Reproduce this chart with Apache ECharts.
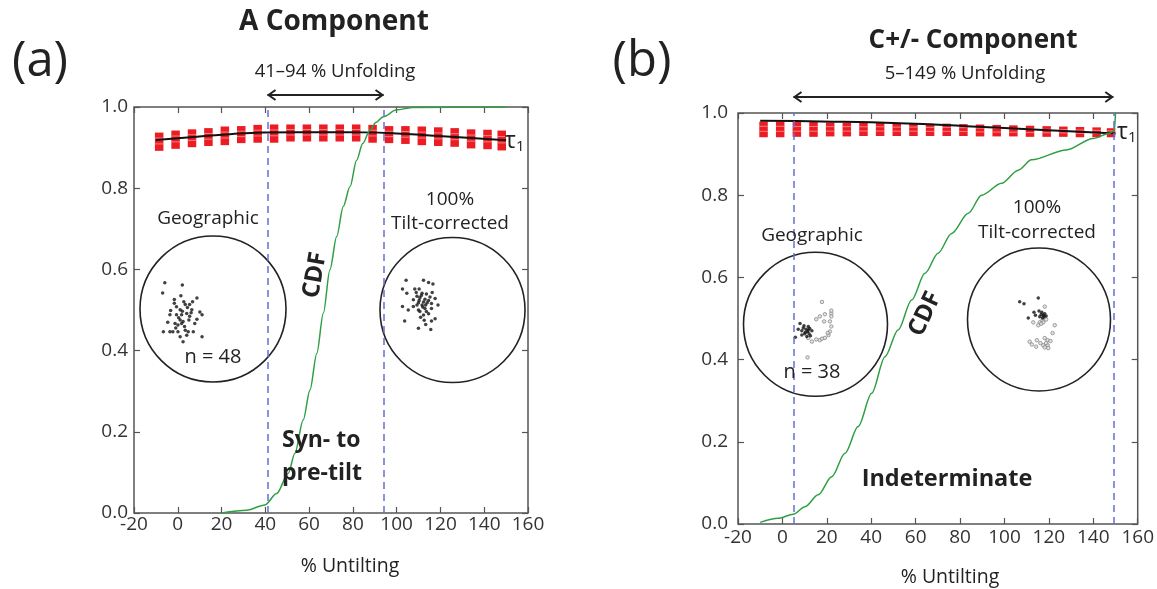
<!DOCTYPE html>
<html><head><meta charset="utf-8">
<script src="https://cdn.jsdelivr.net/npm/echarts/dist/echarts.min.js"></script>
<style>html,body{margin:0;padding:0;background:#fff}#c{width:1157px;height:589px}</style>
</head><body><div id="c"></div>
<script>
// ---------- data ----------
const xTickValues = [-20, 0, 20, 40, 60, 80, 100, 120, 140, 160];
const yTickValues = [0.0, 0.2, 0.4, 0.6, 0.8, 1.0];

const foldA = [41, 94];
const foldB = [5, 149];

const cdfA_x = [20, 31.5, 39.8, 45.2, 50.5, 53.5, 57.3, 60.4, 63.5, 66.5, 69.5, 72.6, 75.6, 78.7, 81.7, 84.5, 87.8, 90.5, 93.9, 100, 107.5, 150];
const cdfA_y = [0, 0.007, 0.02, 0.048, 0.098, 0.147, 0.229, 0.303, 0.393, 0.492, 0.599, 0.681, 0.755, 0.804, 0.869, 0.91, 0.943, 0.962, 0.976, 0.993, 0.999, 1.0];

const cdfB_x = [-10, -1.9, 4.9, 10.2, 16.1, 22.2, 28.2, 34.1, 40.2, 46.2, 52.1, 58.2, 64.2, 70.1, 76.2, 83.7, 89.7, 98.7, 106.2, 112.2, 127.9, 139.9, 147.4, 149.5, 150];
const cdfB_y = [0.004, 0.014, 0.024, 0.042, 0.071, 0.115, 0.172, 0.237, 0.318, 0.407, 0.472, 0.545, 0.61, 0.659, 0.707, 0.756, 0.8, 0.829, 0.861, 0.886, 0.91, 0.938, 0.951, 0.958, 1.0];

const tauA_x = [-10, 8.6, 23.9, 39.1, 54.3, 69.5, 84.8, 100, 115.2, 130.4, 150];
const tauA_y = [0.919, 0.927, 0.933, 0.937, 0.938, 0.938, 0.9375, 0.935, 0.930, 0.925, 0.918];

const tauB_x = [-10, 22.9, 52.9, 82.9, 112.9, 150];
const tauB_y = [0.981, 0.979, 0.975, 0.968, 0.960, 0.950];

const bootX = [-8.5, -1, 6.5, 14, 21.5, 29, 36.5, 44, 51.5, 59, 66.5, 74, 81.5, 89, 96.5, 104, 111.5, 119, 126.5, 134, 141.5, 148];
const bootA_hi = [0.937, 0.942, 0.945, 0.948, 0.952, 0.953, 0.956, 0.957, 0.957, 0.957, 0.957, 0.957, 0.957, 0.956, 0.953, 0.953, 0.952, 0.950, 0.948, 0.945, 0.944, 0.942];
const bootA_lo = [0.892, 0.897, 0.901, 0.904, 0.906, 0.911, 0.912, 0.912, 0.915, 0.915, 0.915, 0.915, 0.915, 0.912, 0.911, 0.909, 0.906, 0.904, 0.902, 0.898, 0.896, 0.893];
const bootB_hi = [0.979, 0.979, 0.978, 0.978, 0.977, 0.977, 0.976, 0.976, 0.975, 0.975, 0.974, 0.974, 0.973, 0.972, 0.971, 0.970, 0.969, 0.968, 0.967, 0.966, 0.965, 0.963];
const bootB_lo = [0.941, 0.941, 0.942, 0.942, 0.943, 0.943, 0.944, 0.944, 0.944, 0.944, 0.944, 0.944, 0.944, 0.943, 0.943, 0.943, 0.942, 0.942, 0.942, 0.941, 0.941, 0.941];

// stereonet directions (unit-circle coordinates)
const geoA_pts = [[-0.66,0.36],[-0.42,0.33],[-0.69,0.22],[-0.22,0.15],[-0.53,0.13],[-0.53,0.08],[-0.38,0.06],[-0.32,0.06],[-0.50,0.03],[-0.45,-0.01],[-0.29,-0.01],[-0.18,-0.04],[-0.59,-0.08],[-0.50,-0.08],[-0.43,-0.08],[-0.36,-0.06],[-0.32,-0.10],[-0.22,-0.14],[-0.15,-0.08],[-0.45,-0.15],[-0.41,-0.17],[-0.52,-0.20],[-0.48,-0.22],[-0.43,-0.20],[-0.38,-0.29],[-0.68,-0.31],[-0.59,-0.31],[-0.55,-0.31],[-0.48,-0.31],[-0.34,-0.31],[-0.27,-0.31],[-0.45,-0.38],[-0.41,-0.45],[-0.15,-0.38],[-0.40,0.10],[-0.35,0.02],[-0.30,-0.05],[-0.47,-0.12],[-0.39,-0.24],[-0.25,-0.20],[-0.58,-0.02],[-0.44,0.18],[-0.33,-0.15],[-0.51,-0.26],[-0.36,-0.36],[-0.28,0.10],[-0.62,-0.18],[-0.42,-0.03]];
const tiltA_pts = [[-0.64,0.41],[-0.40,0.41],[-0.33,0.38],[-0.27,0.36],[-0.69,0.29],[-0.52,0.29],[-0.46,0.29],[-0.63,0.23],[-0.42,0.23],[-0.36,0.22],[-0.49,0.19],[-0.45,0.17],[-0.31,0.18],[-0.24,0.16],[-0.54,0.14],[-0.46,0.13],[-0.40,0.11],[-0.33,0.13],[-0.29,0.09],[-0.49,0.07],[-0.42,0.07],[-0.37,0.07],[-0.20,0.07],[-0.69,0.05],[-0.54,0.05],[-0.61,0.0],[-0.47,0.0],[-0.38,0.02],[-0.45,-0.02],[-0.29,0.02],[-0.36,-0.02],[-0.40,-0.07],[-0.24,-0.12],[-0.29,-0.15],[-0.66,-0.15],[-0.39,-0.14],[-0.47,-0.25],[-0.30,-0.27],[-0.43,0.20],[-0.38,0.15],[-0.35,0.10],[-0.41,0.04],[-0.33,-0.05],[-0.44,-0.10],[-0.50,0.24],[-0.28,0.24],[-0.37,-0.20],[-0.47,0.10]];
const geoB_black = [[-0.215,0.01],[-0.16,-0.02],[-0.10,-0.03],[-0.24,-0.07],[-0.19,-0.09],[-0.13,-0.07],[-0.08,-0.06],[-0.11,-0.10],[-0.05,-0.09],[-0.15,-0.13],[-0.09,-0.13],[-0.19,-0.15],[-0.28,-0.18],[-0.07,-0.16],[-0.12,-0.17],[-0.14,-0.11],[-0.17,-0.05],[-0.10,-0.08]];
const geoB_grey = [[0.09,0.31],[0.22,0.15],[0.22,0.11],[0.13,0.14],[0.06,0.11],[0.01,0.07],[0.12,0.04],[0.20,0.04],[0.22,-0.03],[0.20,-0.10],[0.18,-0.15],[0.13,-0.19],[0.06,-0.22],[0.01,-0.21],[-0.05,-0.24],[-0.10,-0.19],[-0.11,-0.46],[0.22,0.19],[0.17,-0.12],[0.09,-0.20]];
const tiltB_black = [[-0.27,0.25],[-0.21,0.22],[-0.01,0.30],[-0.07,0.10],[0.04,0.10],[0.06,0.06],[0.08,0.08],[-0.15,0.02],[0.01,0.04],[0.07,0.04],[0.10,0.05],[0.03,0.07],[0.00,0.12],[-0.05,0.06],[0.05,0.02]];
const tiltB_grey = [[0.08,0.18],[0.05,-0.01],[0.01,-0.04],[-0.01,-0.08],[0.06,-0.04],[0.22,-0.08],[0.19,-0.19],[-0.13,-0.31],[-0.03,-0.29],[0.08,-0.26],[0.12,-0.29],[0.06,-0.36],[0.12,-0.36],[-0.04,-0.38],[0.13,-0.40],[0.08,-0.39],[0.10,0.00],[0.03,-0.06],[-0.08,-0.04],[0.16,-0.30],[0.02,-0.33],[0.10,-0.33],[-0.10,-0.35]];

// ---------- chart ----------
const FONT = '"Open Sans", "Noto Sans", sans-serif';
const chart = echarts.init(document.getElementById('c'), null, {renderer: 'canvas'});
const zip = (a, b) => a.map((v, i) => [v, b[i]]);
const zip3 = (a, b, c) => a.map((v, i) => [v, b[i], c[i]]);

const gridsMain = [
  {left: 134, top: 107, width: 394, height: 406},
  {left: 738, top: 113, width: 400, height: 411}
];
const gridsStereo = [
  {left: 140, top: 236, width: 146, height: 146},
  {left: 380, top: 237.5, width: 145, height: 145},
  {left: 743.5, top: 252.3, width: 144, height: 144},
  {left: 967.5, top: 248, width: 143, height: 143}
];
const grids = gridsMain.map(g => Object.assign({show: true, borderColor: '#555', borderWidth: 1.5, backgroundColor: 'transparent'}, g))
  .concat(gridsStereo.map(g => Object.assign({show: false}, g)));

const tickStyle = {show: true, inside: true, length: 6, lineStyle: {color: '#555', width: 1.2}};
const xAxes = [], yAxes = [];
[0, 1].forEach(gi => {
  const xmin = xTickValues[0], xmax = xTickValues[xTickValues.length - 1];
  xAxes.push({type: 'value', gridIndex: gi, position: 'bottom', min: xmin, max: xmax, interval: 20,
    axisLine: {show: false, onZero: false}, axisTick: tickStyle,
    axisLabel: {show: true, fontSize: 19, color: '#333', fontFamily: FONT, margin: gi === 0 ? 2 : 4}, splitLine: {show: false}});
  xAxes.push({type: 'value', gridIndex: gi, position: 'top', min: xmin, max: xmax, interval: 20,
    axisLine: {show: false, onZero: false}, axisTick: tickStyle,
    axisLabel: {show: false}, splitLine: {show: false}});
  yAxes.push({type: 'value', gridIndex: gi, position: 'left', min: yTickValues[0], max: yTickValues[yTickValues.length - 1], interval: 0.2,
    axisLine: {show: false, onZero: false}, axisTick: tickStyle,
    axisLabel: {show: true, fontSize: 19, color: '#333', fontFamily: FONT, margin: gi === 0 ? 6 : 10, formatter: v => v.toFixed(1)}, splitLine: {show: false}});
  yAxes.push({type: 'value', gridIndex: gi, position: 'right', min: 0, max: 1, interval: 0.2,
    axisLine: {show: false, onZero: false}, axisTick: tickStyle,
    axisLabel: {show: false}, splitLine: {show: false}});
});
[2, 3, 4, 5].forEach(gi => {
  xAxes.push({type: 'value', gridIndex: gi, min: -1, max: 1, show: false});
  yAxes.push({type: 'value', gridIndex: gi, min: -1, max: 1, show: false});
});

const polarCenters = [[213, 309, 73], [452.5, 310, 72.5], [815.5, 324.3, 72], [1039, 319.5, 71.5]];
const polars = polarCenters.map(p => ({center: [p[0], p[1]], radius: p[2]}));
const angleAxes = polarCenters.map((p, i) => ({polarIndex: i, type: 'value', min: 0, max: 360, startAngle: 90,
  axisLine: {show: true, lineStyle: {color: '#222', width: 1.6}}, axisTick: {show: false}, axisLabel: {show: false}, splitLine: {show: false}}));
const radiusAxes = polarCenters.map((p, i) => ({polarIndex: i, type: 'value', min: 0, max: 1, show: false,
  axisLine: {show: false}, axisTick: {show: false}, axisLabel: {show: false}, splitLine: {show: false}}));

function bootRender(params, api) {
  const x = api.value(0), lo = api.value(1), hi = api.value(2);
  const p1 = api.coord([x, hi]);
  const p2 = api.coord([x, lo]);
  const w = 8.5;
  const h = p2[1] - p1[1];
  const children = [{type: 'rect', shape: {x: p1[0] - w / 2, y: p1[1], width: w, height: h}, style: {fill: '#ec1c24'}}];
  [0.3, 0.62].forEach(f => {
    children.push({type: 'line', shape: {x1: p1[0] - w / 2, y1: p1[1] + h * f, x2: p1[0] + w / 2, y2: p1[1] + h * f}, style: {stroke: 'rgba(255,170,170,0.7)', lineWidth: 1}});
  });
  return {type: 'group', children};
}

const dashStyle = {color: '#6570d8', width: 1.5, type: [7, 5]};
function foldLines(vals) {
  return {silent: true, symbol: ['none', 'none'], label: {show: false}, lineStyle: dashStyle,
    data: vals.map(v => ({xAxis: v}))};
}

const series = [
  {type: 'custom', xAxisIndex: 0, yAxisIndex: 0, renderItem: bootRender, data: zip3(bootX, bootA_lo, bootA_hi), encode: {x: 0, y: [1, 2]}, z: 2, silent: true},
  {type: 'line', xAxisIndex: 0, yAxisIndex: 0, data: zip(tauA_x, tauA_y), smooth: true, showSymbol: false, lineStyle: {color: '#111', width: 2}, z: 3},
  {type: 'line', xAxisIndex: 0, yAxisIndex: 0, data: zip(cdfA_x, cdfA_y), smooth: 0.3, smoothMonotone: 'x', showSymbol: false, lineStyle: {color: '#2ea043', width: 1.5}, z: 4, markLine: foldLines(foldA)},
  {type: 'custom', xAxisIndex: 2, yAxisIndex: 2, renderItem: bootRender, data: zip3(bootX, bootB_lo, bootB_hi), encode: {x: 0, y: [1, 2]}, z: 2, silent: true},
  {type: 'line', xAxisIndex: 2, yAxisIndex: 2, data: zip(tauB_x, tauB_y), smooth: true, showSymbol: false, lineStyle: {color: '#111', width: 2}, z: 3},
  {type: 'line', xAxisIndex: 2, yAxisIndex: 2, data: zip(cdfB_x, cdfB_y), smooth: 0.3, smoothMonotone: 'x', showSymbol: false, lineStyle: {color: '#2ea043', width: 1.5}, z: 4, markLine: foldLines(foldB)},
  {type: 'scatter', xAxisIndex: 4, yAxisIndex: 4, data: geoA_pts, symbolSize: 3.5, itemStyle: {color: '#111'}},
  {type: 'scatter', xAxisIndex: 5, yAxisIndex: 5, data: tiltA_pts, symbolSize: 3.5, itemStyle: {color: '#111'}},
  {type: 'scatter', xAxisIndex: 6, yAxisIndex: 6, data: geoB_grey, symbolSize: 3.5, itemStyle: {color: '#ddd', borderColor: '#888', borderWidth: 1}},
  {type: 'scatter', xAxisIndex: 6, yAxisIndex: 6, data: geoB_black, symbolSize: 3.5, itemStyle: {color: '#111'}},
  {type: 'scatter', xAxisIndex: 7, yAxisIndex: 7, data: tiltB_grey, symbolSize: 3.5, itemStyle: {color: '#ddd', borderColor: '#888', borderWidth: 1}},
  {type: 'scatter', xAxisIndex: 7, yAxisIndex: 7, data: tiltB_black, symbolSize: 3.5, itemStyle: {color: '#111'}}
];

chart.setOption({
  animation: false,
  backgroundColor: '#fff',
  textStyle: {fontFamily: FONT},
  grid: grids, xAxis: xAxes, yAxis: yAxes,
  polar: polars, angleAxis: angleAxes, radiusAxis: radiusAxes,
  series: series
});

// ---------- annotations ----------
function txt(x, y, text, size, o) {
  o = o || {};
  return {type: 'text', x: x, y: y, rotation: o.rot || 0, z: 100,
    style: {text: text, fontSize: size, fontFamily: FONT, fontWeight: o.bold ? 'bold' : 'normal', fontStyle: o.italic ? 'italic' : 'normal',
      fill: o.color || '#222', align: o.align || 'center', verticalAlign: 'middle'}};
}
function arrow(x1, x2, y) {
  const c = '#222', lw = 2;
  return [
    {type: 'line', shape: {x1: x1, y1: y, x2: x2, y2: y}, style: {stroke: c, lineWidth: lw}, z: 100},
    {type: 'polyline', shape: {points: [[x1 + 8, y - 5], [x1 + 1, y], [x1 + 8, y + 5]]}, style: {stroke: c, lineWidth: lw, fill: null}, z: 100},
    {type: 'polyline', shape: {points: [[x2 - 8, y - 5], [x2 - 1, y], [x2 - 8, y + 5]]}, style: {stroke: c, lineWidth: lw, fill: null}, z: 100}
  ];
}
const pA1 = chart.convertToPixel({xAxisIndex: 0, yAxisIndex: 0}, [foldA[0], 1]);
const pA2 = chart.convertToPixel({xAxisIndex: 0, yAxisIndex: 0}, [foldA[1], 1]);
const pB1 = chart.convertToPixel({xAxisIndex: 2, yAxisIndex: 2}, [foldB[0], 1]);
const pB2 = chart.convertToPixel({xAxisIndex: 2, yAxisIndex: 2}, [foldB[1], 1]);

const g = [
  txt(40, 62, '(a)', 49),
  txt(642, 62, '(b)', 49),
  txt(334, 22, 'A Component', 28, {bold: true}),
  txt(335, 72, '41\u201394 % Unfolding', 18.5),
  txt(973, 41, 'C+/- Component', 26, {bold: true}),
  txt(965, 74, '5\u2013149 % Unfolding', 18.5),
  txt(350, 566, '% Untilting', 19.5),
  txt(950, 577, '% Untilting', 19.5),
  txt(208, 219, 'Geographic', 19),
  txt(213, 357, 'n = 48', 20),
  txt(450, 200, '100%', 19),
  txt(450, 224, 'Tilt-corrected', 19),
  txt(315, 275, 'CDF', 24, {bold: true, rot: 80 * Math.PI / 180}),
  txt(282, 440, 'Syn- to', 23, {bold: true, align: 'left'}),
  txt(282, 473, 'pre-tilt', 23, {bold: true, align: 'left'}),
  txt(812, 236, 'Geographic', 19),
  txt(812, 372, 'n = 38', 20),
  txt(1037, 208, '100%', 19),
  txt(1037, 233, 'Tilt-corrected', 19),
  txt(925, 314, 'CDF', 24, {bold: true, rot: 65 * Math.PI / 180}),
  txt(947, 479, 'Indeterminate', 23.5, {bold: true}),
  txt(505, 141, '\u03c4', 23, {align: 'left'}),
  txt(516, 147, '1', 15, {align: 'left'}),
  txt(1117, 132, '\u03c4', 23, {align: 'left'}),
  txt(1128, 138, '1', 15, {align: 'left'})
].concat(arrow(pA1[0], pA2[0], 95), arrow(pB1[0], pB2[0], 97));

chart.setOption({graphic: {elements: g}});
</script>
</body></html>
